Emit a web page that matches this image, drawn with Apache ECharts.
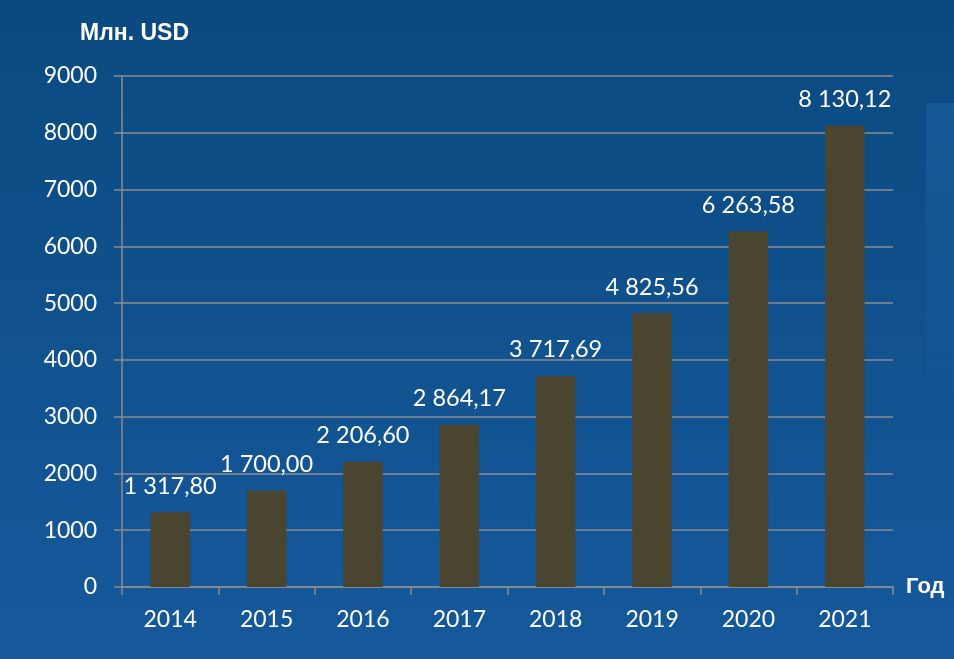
<!DOCTYPE html>
<html>
<head>
<meta charset="utf-8">
<script src="https://cdn.jsdelivr.net/npm/echarts@6/dist/echarts.min.js"></script>
<style>html,body{margin:0;padding:0;}#c{width:954px;height:659px;}</style>
</head>
<body>
<div id="c"></div>
<script>
const years = ['2014','2015','2016','2017','2018','2019','2020','2021'];
const values = [1317.80, 1700.00, 2206.60, 2864.17, 3717.69, 4825.56, 6263.58, 8130.12];
const yTicks = {min: 0, max: 9000, interval: 1000};
const yName = 'Млн. USD';
const xName = 'Год';

function fmt(v) {
  const parts = v.toFixed(2).split('.');
  const intPart = parts[0].replace(/\B(?=(\d{3})+(?!\d))/g, ' ');
  return intPart + ',' + parts[1];
}

const chart = echarts.init(document.getElementById('c'));
chart.setOption({
  backgroundColor: {
    type: 'linear', x: 0, y: 0, x2: 0, y2: 1,
    colorStops: [{offset: 0, color: '#0b4a80'}, {offset: 1, color: '#16599c'}]
  },
  title: {
    text: yName, left: 75, top: 17,
    textStyle: {color: '#ffffff', fontFamily: 'Liberation Sans', fontWeight: 'bold', fontSize: 23}
  },
  graphic: [{
    type: 'rect', left: 926, top: 103, z: 0,
    shape: {width: 28, height: 310},
    style: {fill: {
      type: 'linear', x: 0, y: 0, x2: 0, y2: 1,
      colorStops: [{offset: 0, color: 'rgba(40,110,180,0.35)'}, {offset: 1, color: 'rgba(40,110,180,0.0)'}]
    }}
  }],
  grid: {left: 122, right: 61, top: 76, bottom: 72},
  xAxis: {
    type: 'category', data: years,
    name: xName, nameLocation: 'end', nameGap: 13,
    nameTextStyle: {color: '#ffffff', fontFamily: 'Liberation Sans', fontWeight: 'bold', fontSize: 22, verticalAlign: 'middle', padding: [6,0,0,0]},
    axisLine: {show: true, lineStyle: {color: '#8c8c8c', width: 1.5}},
    axisTick: {show: true, alignWithLabel: false, length: 8, lineStyle: {color: '#8c8c8c', width: 1.5}},
    axisLabel: {color: '#ffffff', fontFamily: 'Lato', fontSize: 23, margin: 21}
  },
  yAxis: {
    type: 'value', min: yTicks.min, max: yTicks.max, interval: yTicks.interval,
    axisLine: {show: true, lineStyle: {color: '#8c8c8c', width: 1.5}},
    axisTick: {show: true, length: 8, lineStyle: {color: '#8c8c8c', width: 1.5}},
    splitLine: {show: true, lineStyle: {color: '#8c8c8c', width: 1.5}},
    axisLabel: {color: '#ffffff', fontFamily: 'Lato', fontSize: 23, margin: 25, formatter: v => String(v)}
  },
  series: [{
    type: 'bar', data: values, barWidth: '41%',
    itemStyle: {color: '#4a4530'},
    label: {
      show: true, position: 'top', distance: 14,
      color: '#ffffff', fontFamily: 'Lato', fontSize: 23.5,
      formatter: p => fmt(p.value)
    }
  }],
  animation: false
});
</script>
</body>
</html>
